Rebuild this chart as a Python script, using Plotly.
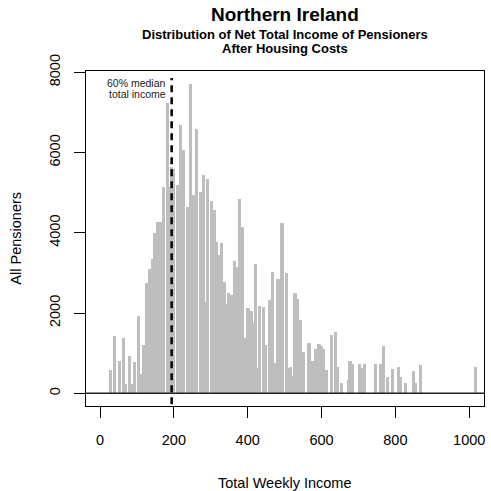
import plotly.graph_objects as go

income = [28, 39, 53, 63, 70, 79, 85, 94, 104, 112, 118, 127, 135, 143, 148, 157, 164, 171, 182, 187,
          193, 199, 209, 218, 227, 236, 245, 253, 262, 271, 280, 284, 292, 302, 309, 316, 322, 328,
          337, 344, 349, 357, 364, 370, 378, 386, 395, 401, 410, 414, 422, 428, 433, 442, 449, 458,
          467, 472, 482, 493, 504, 509, 515, 521, 528, 535, 543, 550, 566, 574, 583, 593, 599, 606,
          613, 627, 637, 643, 654, 672, 677, 683, 702, 708, 717, 747, 761, 767, 778, 792, 808, 813,
          828, 848, 854, 868, 1017]
pensioners = [580, 1430, 800, 1370, 230, 930, 220, 790, 1920, 490, 1200, 2740, 3090, 3360, 3985, 4275,
              4275, 5150, 7225, 5150, 5630, 5580, 5190, 6685, 6060, 4650, 7720, 4940, 6600, 5020, 5440,
              2280, 5340, 4790, 4570, 3780, 3450, 3740, 2780, 2220, 2490, 2440, 3300, 3150, 4840, 4150,
              1370, 2120, 2040, 1750, 3220, 620, 2175, 2140, 1200, 2325, 3020, 750, 2840, 4235, 2990,
              620, 660, 420, 2490, 2345, 1825, 1040, 1260, 810, 1100, 1230, 1180, 1100, 570, 1450, 1520,
              665, 265, 330, 805, 730, 730, 620, 730, 730, 730, 1180, 415, 605, 650, 415, 265, 565, 265,
              705, 650]

median60 = 194
x_ticks = [0, 200, 400, 600, 800, 1000]
y_ticks = [0, 2000, 4000, 6000, 8000]

FONT = "Liberation Sans, Arial, sans-serif"

fig = go.Figure()
fig.add_trace(go.Bar(x=income, y=pensioners, width=8.6,
                     marker=dict(color="#BEBEBE", line=dict(width=0)), showlegend=False))

# zero line
fig.add_shape(type="line", xref="paper", yref="y", x0=0, x1=1, y0=0, y1=0,
              line=dict(color="#222222", width=1.5))
# 60% median line
fig.add_shape(type="line", xref="x", yref="y", x0=median60, x1=median60, y0=-270, y1=7860,
              line=dict(color="black", width=2.5, dash="7px,5px"))

fig.add_annotation(x=182, y=7740, xref="x", yref="y", text="60% median", showarrow=False,
                   xanchor="right", yanchor="middle", borderpad=0,
                   font=dict(size=10.5, color="#222", family=FONT))
fig.add_annotation(x=182, y=7450, xref="x", yref="y", text="total income", showarrow=False,
                   xanchor="right", yanchor="middle", borderpad=0,
                   font=dict(size=10.5, color="#222", family=FONT))

fig.add_annotation(x=0.5, y=1.170, xref="paper", yref="paper", text="<b>Northern Ireland</b>",
                   showarrow=False, yanchor="middle", font=dict(size=19, color="black", family=FONT))
fig.add_annotation(x=0.5, y=1.109, xref="paper", yref="paper",
                   text="<b>Distribution of Net Total Income of Pensioners</b>",
                   showarrow=False, yanchor="middle", font=dict(size=13, color="black", family=FONT))
fig.add_annotation(x=0.5, y=1.066, xref="paper", yref="paper", text="<b>After Housing Costs</b>",
                   showarrow=False, yanchor="middle", font=dict(size=13, color="black", family=FONT))

fig.add_annotation(x=0.5, y=-0.23, xref="paper", yref="paper", text="Total Weekly Income",
                   showarrow=False, yanchor="middle", font=dict(size=14.5, color="black", family=FONT))
fig.add_annotation(x=-0.178, y=0.5, xref="paper", yref="paper", text="All Pensioners", textangle=-90,
                   showarrow=False, xanchor="center", yanchor="middle",
                   font=dict(size=14.5, color="black", family=FONT))

fig.update_layout(
    width=491, height=491,
    margin=dict(l=86, r=7, t=71, b=85),
    paper_bgcolor="white", plot_bgcolor="white",
    bargap=0,
    font=dict(family=FONT, size=14.5, color="black"),
    xaxis=dict(range=[-38, 1040], tickvals=x_ticks, ticktext=[str(v) for v in x_ticks],
               ticks="outside", ticklen=11, tickcolor="black", tickwidth=1,
               showline=True, mirror=True, linecolor="black", linewidth=1,
               showgrid=False, zeroline=False, ticklabelstandoff=10,
               tickfont=dict(size=14.5, color="black", family=FONT)),
    yaxis=dict(range=[-316, 8033], tickvals=y_ticks, ticktext=[str(v) for v in y_ticks],
               ticks="outside", ticklen=11, tickcolor="black", tickwidth=1, tickangle=-90,
               showline=True, mirror=True, linecolor="black", linewidth=1,
               showgrid=False, zeroline=False, ticklabelstandoff=8,
               tickfont=dict(size=14.5, color="black", family=FONT)),
)

fig.write_html("out.html")
